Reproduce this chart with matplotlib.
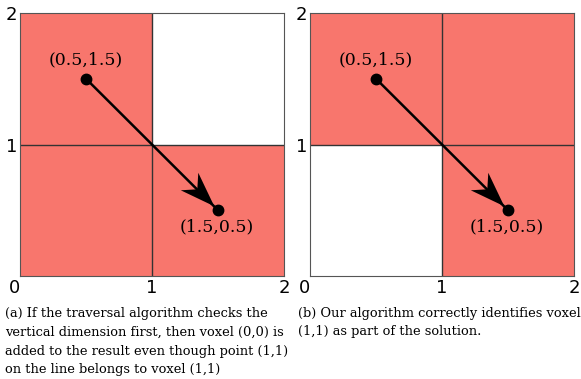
import numpy as np
import matplotlib.pyplot as plt
from matplotlib.colors import ListedColormap
from matplotlib.markers import MarkerStyle
from matplotlib.path import Path
from matplotlib.transforms import Affine2D

# voxel occupancy, rows are y = 0, 1 and columns x = 0, 1
cells_a = [[1, 1], [1, 0]]
cells_b = [[0, 1], [1, 1]]
start = (0.5, 1.5)
end = (1.5, 0.5)
start_label = '(0.5,1.5)'
end_label = '(1.5,0.5)'
xticks = [0, 1, 2]
yticks = [1, 2]
caption_a = ['(a) If the traversal algorithm checks the',
             'vertical dimension first, then voxel (0,0) is',
             'added to the result even though point (1,1)',
             'on the line belongs to voxel (1,1)']
caption_b = ['(b) Our algorithm correctly identifies voxel',
             '(1,1) as part of the solution.']

fill = '#F8766D'
cmap = ListedColormap(['white', fill])

# stealth-like arrow head, origin at the end point, pointing +x
head = Path([(-6, 0), (-41, 12.4), (-30, 0), (-41, -12.4), (-6, 0)],
            [Path.MOVETO, Path.LINETO, Path.LINETO, Path.LINETO, Path.CLOSEPOLY])
ang = np.degrees(np.arctan2(end[1] - start[1], end[0] - start[0]))
head_marker = MarkerStyle(head, transform=Affine2D().rotate_deg(ang))

fig = plt.figure(figsize=(5.81, 3.79), dpi=100)
ax_a = fig.add_axes([20 / 581, 1 - 276 / 379, 264 / 581, 263 / 379])
ax_b = fig.add_axes([310 / 581, 1 - 276 / 379, 264 / 581, 263 / 379])


def draw_panel(ax, cells):
    ax.pcolormesh([0, 1, 2], [0, 1, 2], np.array(cells), cmap=cmap,
                  vmin=0, vmax=1)
    ax.axhline(1, color='#333333', lw=1.0)
    ax.axvline(1, color='#333333', lw=1.0)
    ax.plot([start[0], end[0]], [start[1], end[1]], color='black', lw=1.8)
    ax.plot(*end, marker=head_marker, markersize=59, color='black', mew=0)
    ax.plot([start[0], end[0]], [start[1], end[1]], 'o', color='black', ms=7.5)
    ax.annotate(start_label, start, xytext=(0, 19), textcoords='offset pixels',
                ha='center', va='center', family='DejaVu Serif', fontsize=12.5)
    ax.annotate(end_label, end, xytext=(-1, -17), textcoords='offset pixels',
                ha='center', va='center', family='DejaVu Serif', fontsize=12.5)
    ax.set_xlim(0, 2)
    ax.set_ylim(0, 2)
    ax.set_xticks(xticks)
    ax.set_yticks(yticks)
    ax.tick_params(length=0, labelsize=13, pad=2)
    ax.get_xticklabels()[0].set_ha('right')
    for s in ax.spines.values():
        s.set_color('#555555')
        s.set_linewidth(0.8)


draw_panel(ax_a, cells_a)
draw_panel(ax_b, cells_b)

for i, line in enumerate(caption_a):
    fig.text(5 / 581, 1 - (313 + 19 * i) / 379, line, va='center', ha='left',
             family='DejaVu Serif', fontsize=9.35)
for i, line in enumerate(caption_b):
    fig.text(298 / 581, 1 - (313 + 19 * i) / 379, line, va='center', ha='left',
             family='DejaVu Serif', fontsize=9.35)

fig.savefig('out.png', dpi=100)
